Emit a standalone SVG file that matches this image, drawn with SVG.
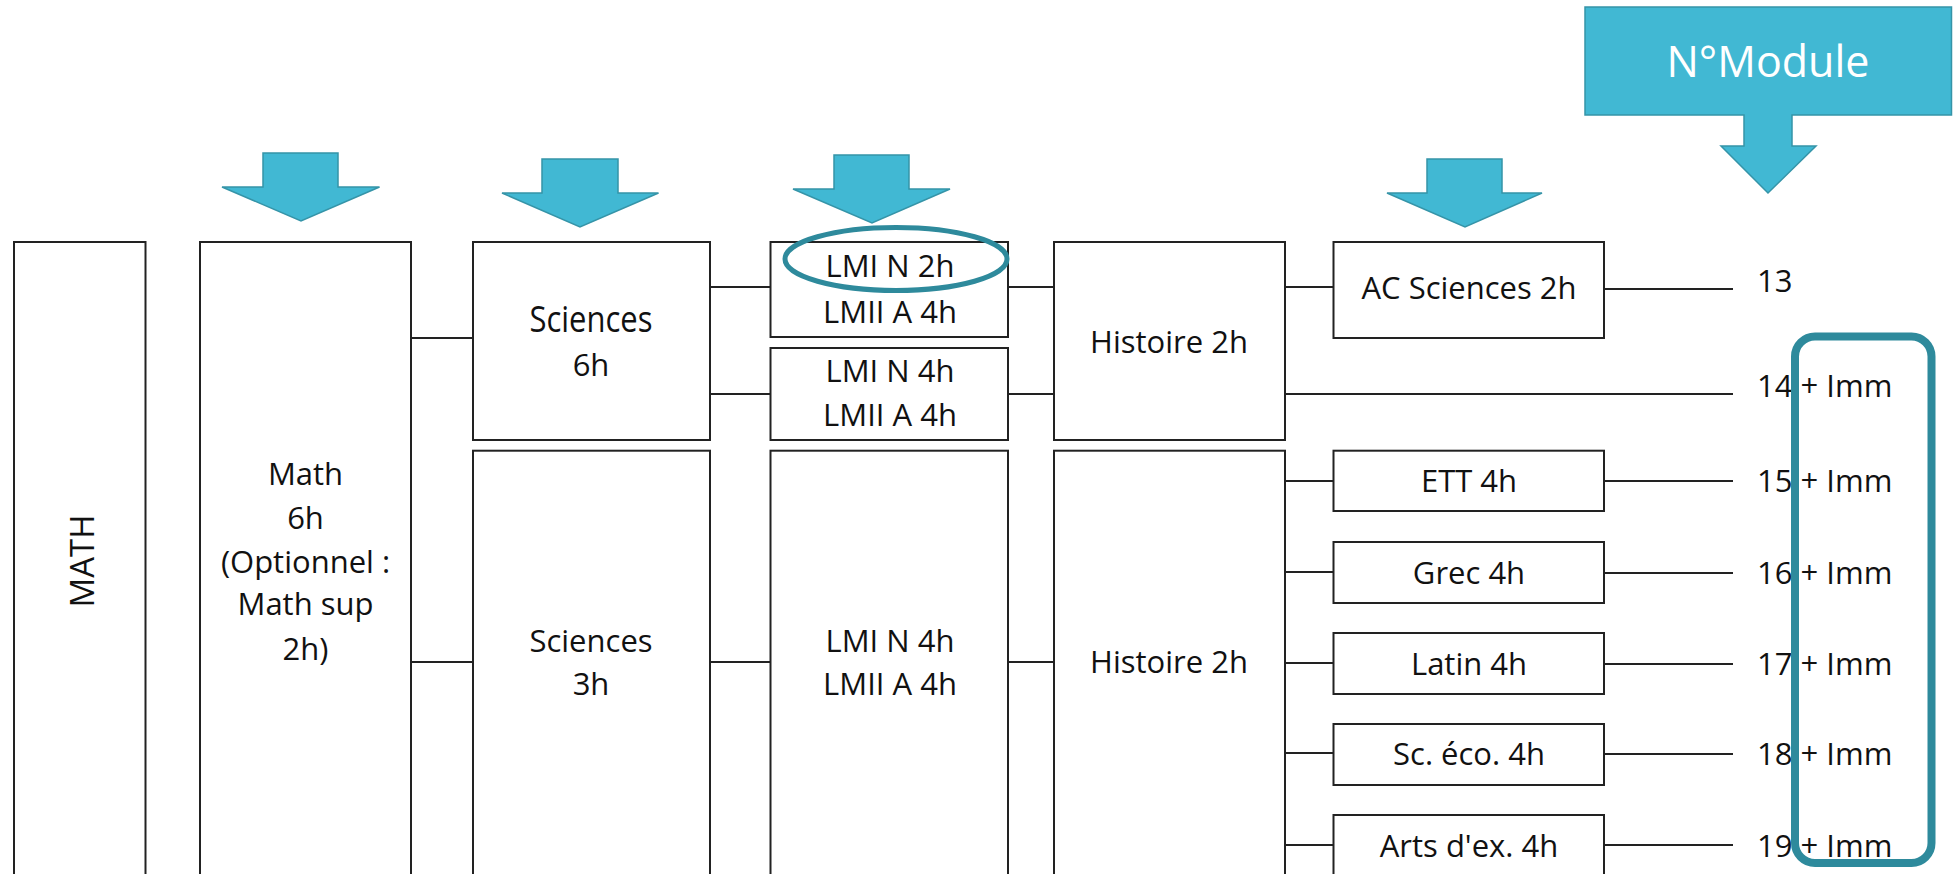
<svg xmlns="http://www.w3.org/2000/svg" width="1957" height="874" viewBox="0 0 1957 874">
<style>
.box{fill:#ffffff;stroke:#222222;stroke-width:2}
.ln{fill:none;stroke:#222222;stroke-width:2}
.arr{fill:#41B8D3;stroke:#3594A8;stroke-width:1.5;stroke-linejoin:miter}
.t{font-family:"Open Sans","Noto Sans","Liberation Sans",sans-serif;font-size:31px;fill:#111111;text-anchor:middle}
.n{font-family:"Open Sans","Noto Sans","Liberation Sans",sans-serif;font-size:31px;fill:#111111}
.hl{fill:none;stroke:#2E8A9C}
</style>
<rect width="1957" height="874" fill="#ffffff"/>
<g id="arrows">
<path class="arr" d="M263 153H338V187H379.5L301 221L222 187H263Z"/>
<path class="arr" d="M542 159H618V193H658.5L580 227L502 193H542Z"/>
<path class="arr" d="M834 155H909V189H950L872 223L793 189H834Z"/>
<path class="arr" d="M1427 159H1502V193H1542L1465 227L1387 193H1427Z"/>
</g>
<g id="nmodule">
<path class="arr" d="M1585 7H1951.5V115H1792V146H1816L1768 193L1721 146H1744V115H1585Z"/>
<text x="1768" y="77" style="font-family:'Open Sans','Noto Sans','Liberation Sans',sans-serif;font-size:43px;fill:#ffffff;text-anchor:middle">N°Module</text>
</g>
<g id="connectors">
<path class="ln" d="M411 338H473M411 662H473M710 287H770.5M710 394H770.5M710 662H770.5M1008 287H1054M1008 394H1054M1008 662H1054M1285 287H1333.5M1285 394H1733M1604 289H1733M1285 481H1333.5M1285 572H1333.5M1285 663H1333.5M1285 753H1333.5M1285 845H1333.5M1604 481H1733M1604 573H1733M1604 664H1733M1604 754H1733M1604 845H1733"/>
</g>
<g id="node-MATH">
<rect class="box" x="14" y="242" width="131.5" height="640"/>
<text class="t" transform="translate(94,561) rotate(-90)" style="font-size:33px">MATH</text>
</g>
<g id="node-math">
<rect class="box" x="200" y="242" width="211" height="640"/>
<text class="t"><tspan x="305.5" y="485">Math</tspan><tspan x="305.5" y="529">6h</tspan><tspan x="305.5" y="573">(Optionnel :</tspan><tspan x="305.5" y="615">Math sup</tspan><tspan x="305.5" y="660">2h)</tspan></text>
</g>
<g id="node-sciences6">
<rect class="box" x="473" y="242" width="237" height="198"/>
<text class="t" transform="translate(591,332) scale(1,1.2)">Sciences</text>
<text class="t" x="591" y="376">6h</text>
</g>
<g id="node-sciences3">
<rect class="box" x="473" y="450.7" width="237" height="431"/>
<text class="t"><tspan x="591" y="652">Sciences</tspan><tspan x="591" y="695">3h</tspan></text>
</g>
<g id="node-lmi1">
<rect class="box" x="770.5" y="242" width="237.5" height="95"/>
<text class="t"><tspan x="890" y="277">LMI N 2h</tspan><tspan x="890" y="323">LMII A 4h</tspan></text>
</g>
<g id="node-lmi2">
<rect class="box" x="770.5" y="348" width="237.5" height="92"/>
<text class="t"><tspan x="890" y="382">LMI N 4h</tspan><tspan x="890" y="426">LMII A 4h</tspan></text>
</g>
<g id="node-lmi3">
<rect class="box" x="770.5" y="450.7" width="237.5" height="431"/>
<text class="t"><tspan x="890" y="652">LMI N 4h</tspan><tspan x="890" y="695">LMII A 4h</tspan></text>
</g>
<g id="node-histoire1">
<rect class="box" x="1054" y="242" width="231" height="198"/>
<text class="t" x="1169" y="353">Histoire 2h</text>
</g>
<g id="node-histoire2">
<rect class="box" x="1054" y="450.7" width="231" height="431"/>
<text class="t" x="1169" y="673">Histoire 2h</text>
</g>
<g id="node-ac">
<rect class="box" x="1333.5" y="242" width="270.5" height="96"/>
<text class="t" x="1469" y="299">AC Sciences 2h</text>
</g>
<g id="node-ett">
<rect class="box" x="1333.5" y="450.7" width="270.5" height="60.3"/>
<text class="t" x="1469" y="492">ETT 4h</text>
</g>
<g id="node-grec">
<rect class="box" x="1333.5" y="542" width="270.5" height="61"/>
<text class="t" x="1469" y="584">Grec 4h</text>
</g>
<g id="node-latin">
<rect class="box" x="1333.5" y="633" width="270.5" height="61"/>
<text class="t" x="1469" y="675">Latin 4h</text>
</g>
<g id="node-sceco">
<rect class="box" x="1333.5" y="724" width="270.5" height="61"/>
<text class="t" x="1469" y="765">Sc. éco. 4h</text>
</g>
<g id="node-arts">
<rect class="box" x="1333.5" y="815" width="270.5" height="67"/>
<text class="t" x="1469" y="857">Arts d'ex. 4h</text>
</g>
<g id="modules">
<text class="n" x="1757" y="292">13</text>
<text class="n" x="1757" y="397">14 + Imm</text>
<text class="n" x="1757" y="492">15 + Imm</text>
<text class="n" x="1757" y="584">16 + Imm</text>
<text class="n" x="1757" y="675">17 + Imm</text>
<text class="n" x="1757" y="765">18 + Imm</text>
<text class="n" x="1757" y="857">19 + Imm</text>
</g>
<g id="highlights">
<ellipse class="hl" cx="896" cy="259" rx="111" ry="31.5" stroke-width="5"/>
<rect class="hl" x="1795" y="336.5" width="136.5" height="526.5" rx="20" ry="20" stroke-width="8"/>
</g>
</svg>
